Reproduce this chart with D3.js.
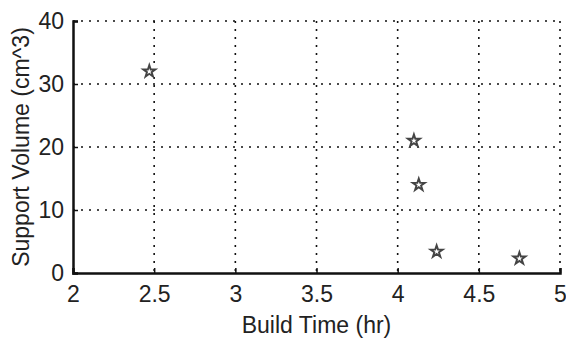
<!DOCTYPE html>
<html lang="en">
<head>
<script src="https://d3js.org/d3.v7.min.js"></script>
<style>
  body { margin: 0; background: #fff; }
  text { font-family: "Liberation Sans", Arial, sans-serif; fill: #222; }
</style>
</head>
<body>
<div id="chart"></div>
<script>
// data
const buildTime = [2.47, 4.10, 4.13, 4.24, 4.75];
const supportVolume = [32, 21, 14, 3.4, 2.3];
const xTicks = [2, 2.5, 3, 3.5, 4, 4.5, 5];
const yTicks = [0, 10, 20, 30, 40];

const width = 566, height = 339;
const margin = {top: 21, right: 6, bottom: 66, left: 73};

const svg = d3.select("#chart").append("svg")
    .attr("width", width)
    .attr("height", height);

const x = d3.scaleLinear().domain([2, 5]).range([margin.left, width - margin.right]);
const y = d3.scaleLinear().domain([0, 40]).range([height - margin.bottom, margin.top]);

// dotted grid
const grid = svg.append("g").attr("stroke", "#111").attr("stroke-width", 1.6)
    .attr("stroke-dasharray", "2,6");
grid.selectAll(".gx").data(xTicks.slice(1)).enter().append("line")
    .attr("x1", d => x(d)).attr("x2", d => x(d))
    .attr("y1", y(40)).attr("y2", y(0));
grid.selectAll(".gy").data(yTicks.slice(1)).enter().append("line")
    .attr("x1", x(2)).attr("x2", x(5))
    .attr("y1", d => y(d)).attr("y2", d => y(d));

// axes, inward ticks like matlab
const xAxis = svg.append("g")
    .attr("transform", "translate(0," + y(0) + ")")
    .call(d3.axisBottom(x).tickValues(xTicks).tickSize(-5).tickPadding(13)
        .tickFormat(d3.format("")));
const yAxis = svg.append("g")
    .attr("transform", "translate(" + x(2) + ",0)")
    .call(d3.axisLeft(y).tickValues(yTicks).tickSize(-5).tickPadding(9));

[xAxis, yAxis].forEach(a => {
    a.select(".domain").attr("stroke", "#111").attr("stroke-width", 2.5);
    a.selectAll(".tick line").attr("stroke", "#111").attr("stroke-width", 1.5);
    a.selectAll("text").attr("font-size", 23).attr("fill", "#222");
});

// stars
const star = d3.symbol().type(d3.symbolStar).size(45);
svg.append("g").selectAll("path")
    .data(buildTime)
    .enter().append("path")
    .attr("d", star)
    .attr("transform", (d, i) => "translate(" + x(d) + "," + y(supportVolume[i]) + ")")
    .attr("fill", "none")
    .attr("stroke", "#444")
    .attr("stroke-width", 1.9);

// axis labels
svg.append("text")
    .attr("x", (x(2) + x(5)) / 2)
    .attr("y", 333)
    .attr("text-anchor", "middle")
    .attr("font-size", 23)
    .text("Build Time (hr)");

svg.append("text")
    .attr("transform", "translate(29," + ((y(0) + y(40)) / 2) + ") rotate(-90)")
    .attr("text-anchor", "middle")
    .attr("font-size", 23)
    .text("Support Volume (cm^3)");
</script>
</body>
</html>
